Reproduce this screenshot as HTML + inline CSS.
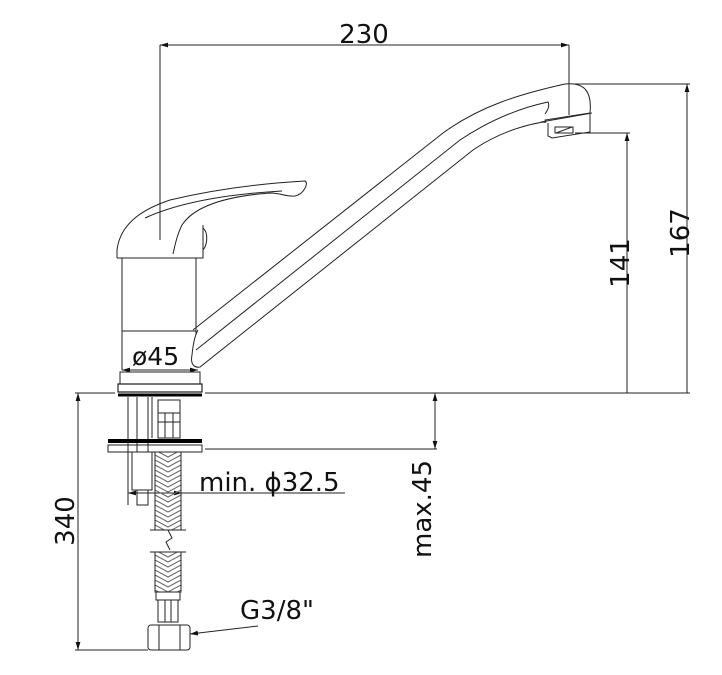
<!DOCTYPE html>
<html><head><style>
html,body{margin:0;padding:0;background:#fff;}
svg{display:block;}
text{font-family:"DejaVu Sans","Liberation Sans",sans-serif;fill:#111;}
</style></head><body>
<svg width="722" height="675" viewBox="0 0 722 675" xmlns="http://www.w3.org/2000/svg">
<defs>
<pattern id="hb" width="26" height="10" patternUnits="userSpaceOnUse" x="155" y="0">
<path d="M0,0 L13,7 L26,0 M0,5 L13,12 L26,5 M0,-5 L13,2 L26,-5" stroke="#666" stroke-width="1" fill="none"/>
</pattern>
<marker id="ar" viewBox="0 0 10 10" refX="10" refY="5" markerWidth="8" markerHeight="8" orient="auto-start-reverse"><path d="M0,2 L10,5 L0,8 z" fill="#111"/></marker>
</defs>
<g fill="none" stroke="#222" stroke-width="1">
<line x1="160" y1="45" x2="569" y2="45" marker-start="url(#ar)" marker-end="url(#ar)"/>
<line x1="160" y1="45" x2="160" y2="240"/>
<line x1="569" y1="45" x2="569" y2="115"/>
<line x1="575" y1="84" x2="690" y2="84"/>
<line x1="687" y1="393" x2="687" y2="84" marker-end="url(#ar)"/>
<line x1="575" y1="133" x2="630" y2="133"/>
<line x1="627" y1="393" x2="627" y2="133" marker-end="url(#ar)"/>
<line x1="75" y1="393" x2="115" y2="393"/>
<line x1="205" y1="393" x2="690" y2="393"/>
<line x1="78" y1="393" x2="78" y2="650" marker-start="url(#ar)" marker-end="url(#ar)"/>
<line x1="75" y1="650" x2="148" y2="650"/>
<line x1="435" y1="393" x2="435" y2="449" marker-start="url(#ar)" marker-end="url(#ar)"/>
<line x1="205" y1="449" x2="437" y2="449"/>
<line x1="128" y1="493" x2="345" y2="493"/>
<line x1="128" y1="493" x2="155" y2="493" marker-start="url(#ar)"/>
<line x1="180" y1="493" x2="182" y2="493" marker-end="url(#ar)"/>
<line x1="258" y1="626" x2="190" y2="634" marker-end="url(#ar)"/>
<line x1="122" y1="370" x2="198" y2="370" marker-start="url(#ar)" marker-end="url(#ar)"/>
<path d="M117,258 L117,250 C120,225 140,210 170,200 C220,188 270,183 305,181 C309,183 304,194 295,196 C285,197 282,193 270,193 C230,196 195,205 182,225 C177,235 175,245 173,254"/>
<path d="M145,218 C180,202 230,194 282,191"/>
<path d="M117,258 L203,258 L203,225"/>
<path d="M203,228 C208,232 208,244 203,250"/>
<path d="M122,258 L122,370 M196,258 L196,335 M122,331 L196,331"/>
<path d="M120,372 L200,372 L200,384 L120,384 Z"/>
<path d="M118,384 L202,384 L202,392 L118,392 Z" stroke-width="1.2"/>
<line x1="118" y1="395" x2="202" y2="395" stroke-width="3" stroke="#000"/>
<path d="M193,330 L443,133 C480,106 520,94 565,84 C585,82 592,92 590,113 L545,120 C545,121 548,123 543,122 C520,126 495,135 473,150 L200,367 C195,368 190,365 192,355 C193,345 195,335 198,330"/>
<path d="M196,350 L460,140 C490,120 520,108 548,102 C550,106 548,110 545,114"/>
<path d="M541,122 L592,113 M548,123 L548,136 L552,138 L590,132 L590,114"/>
<rect x="555" y="127" width="18" height="6"/>
<line x1="556" y1="133" x2="572" y2="127"/>
<path d="M128,397 L128,505 M137,397 L137,452 M148,397 L148,452 M152,397 L152,438"/>
<path d="M158,400 L180,400 L180,438 L158,438 Z M158,413 L180,413 M158,422 L180,422 M165,413 L165,438 M173,413 L173,438"/>
<line x1="108" y1="441" x2="202" y2="441" stroke-width="4" stroke="#000"/>
<rect x="108" y="445" width="94" height="7"/>
<path d="M132,452 L152,452 L152,490 L132,490 Z M137,490 L137,505 L148,505 L148,490"/>
<rect x="155" y="452" width="26" height="78" fill="url(#hb)"/>
<rect x="155" y="552" width="26" height="40" fill="url(#hb)"/>
<path d="M155,452 L155,530 M181,452 L181,530 M155,552 L155,592 M181,552 L181,592"/>
<path d="M150,530 L186,530 M150,552 L186,552 M168,530 L172,538 L166,542 L170,550"/>
<path d="M156,592 L180,592 L180,600 L156,600 Z M158,600 L158,622 L178,622 L178,600 M165,600 L165,622 M171,600 L171,622"/>
<rect x="148" y="625" width="42" height="25" rx="3"/>
<path d="M159,625 L159,650 M180,625 L180,650"/>
</g>
<g font-size="26">
<text x="364" y="43" text-anchor="middle">230</text>
<text x="199" y="491">min. ϕ32.5</text>
<text x="240" y="619">G3/8"</text>
<text x="132" y="365" font-size="25">ø45</text>
<text transform="translate(689,233) rotate(-90)" text-anchor="middle">167</text>
<text transform="translate(629,263) rotate(-90)" text-anchor="middle">141</text>
<text transform="translate(74,521) rotate(-90)" text-anchor="middle">340</text>
<text transform="translate(431,509) rotate(-90)" text-anchor="middle">max.45</text>
</g>
</svg>
</body></html>
